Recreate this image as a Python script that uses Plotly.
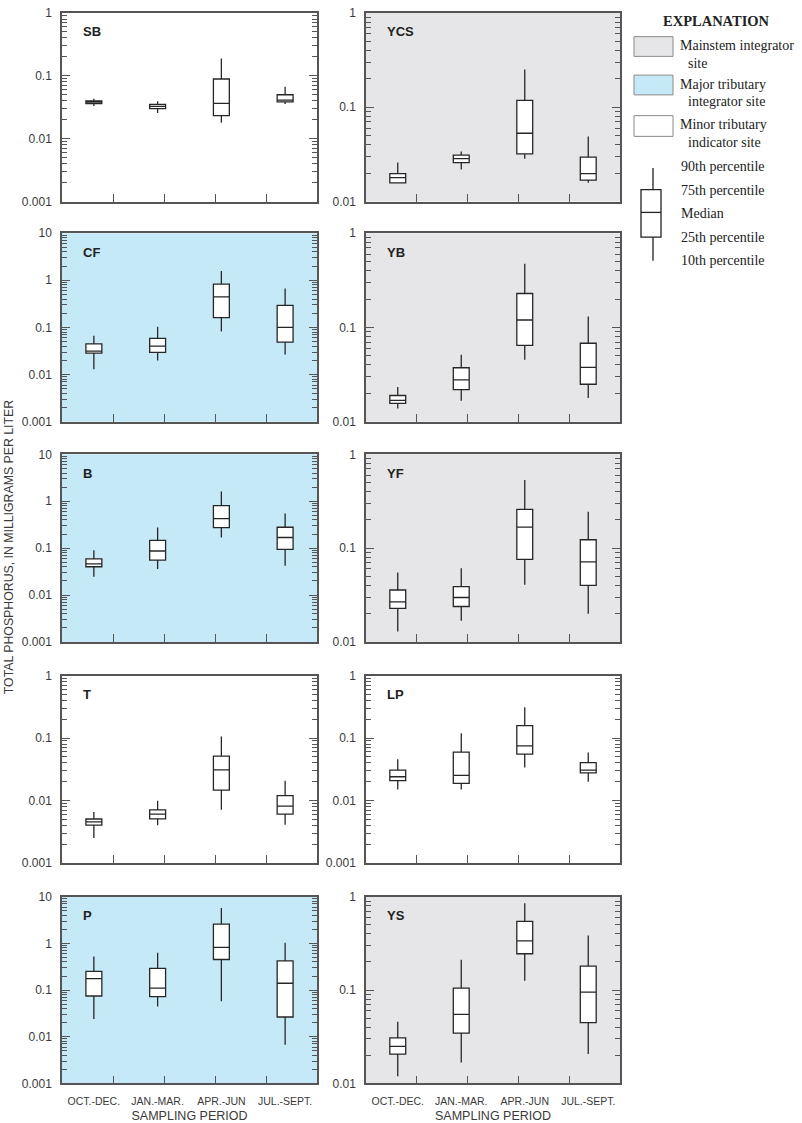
import math
import plotly.graph_objects as go

periods = ["OCT.-DEC.", "JAN.-MAR.", "APR.-JUN", "JUL.-SEPT."]
positions = [0, 1, 2, 3]

# Percentiles per site: 10th, 25th, median, 75th, 90th (mg/L)
SB_P10 = [0.033, 0.0257, 0.018, 0.0355]
SB_P25 = [0.036, 0.030, 0.0232, 0.0386]
SB_MED = [0.038, 0.0326, 0.0363, 0.041]
SB_P75 = [0.040, 0.035, 0.089, 0.050]
SB_P90 = [0.043, 0.0395, 0.189, 0.067]

CF_P10 = [0.013, 0.020, 0.082, 0.0267]
CF_P25 = [0.0285, 0.0295, 0.162, 0.049]
CF_MED = [0.0314, 0.040, 0.447, 0.100]
CF_P75 = [0.0447, 0.0589, 0.83, 0.295]
CF_P90 = [0.067, 0.103, 1.58, 0.668]

B_P10 = [0.0247, 0.0358, 0.169, 0.042]
B_P25 = [0.0402, 0.0555, 0.275, 0.0945]
B_MED = [0.0464, 0.087, 0.425, 0.169]
B_P75 = [0.059, 0.146, 0.81, 0.279]
B_P90 = [0.090, 0.275, 1.62, 0.55]

T_P10 = [0.00253, 0.00405, 0.00713, 0.0041]
T_P25 = [0.00405, 0.0051, 0.0147, 0.0061]
T_MED = [0.00457, 0.0061, 0.031, 0.00815]
T_P75 = [0.00509, 0.00713, 0.0515, 0.012]
T_P90 = [0.00656, 0.010, 0.106, 0.0208]

P_P10 = [0.024, 0.0445, 0.0577, 0.00678]
P_P25 = [0.0747, 0.0723, 0.452, 0.0265]
P_MED = [0.176, 0.110, 0.822, 0.140]
P_P75 = [0.252, 0.292, 2.6, 0.424]
P_P90 = [0.522, 0.635, 5.75, 1.03]

YCS_P10 = [0.0155, 0.0219, 0.0285, 0.0158]
YCS_P25 = [0.0158, 0.0259, 0.0321, 0.0169]
YCS_MED = [0.0179, 0.0285, 0.053, 0.0198]
YCS_P75 = [0.0198, 0.031, 0.118, 0.0296]
YCS_P90 = [0.026, 0.034, 0.252, 0.049]

YB_P10 = [0.0138, 0.0167, 0.0454, 0.0179]
YB_P25 = [0.0157, 0.0219, 0.0647, 0.025]
YB_MED = [0.0169, 0.0278, 0.120, 0.0378]
YB_P75 = [0.019, 0.0374, 0.229, 0.068]
YB_P90 = [0.0233, 0.0513, 0.473, 0.131]

YF_P10 = [0.0129, 0.0168, 0.0408, 0.020]
YF_P25 = [0.0228, 0.0239, 0.076, 0.0402]
YF_MED = [0.0268, 0.0298, 0.168, 0.0713]
YF_P75 = [0.0358, 0.0389, 0.259, 0.123]
YF_P90 = [0.055, 0.061, 0.532, 0.245]

LP_P10 = [0.0151, 0.0151, 0.0338, 0.0201]
LP_P25 = [0.0209, 0.0189, 0.0554, 0.0279]
LP_MED = [0.0241, 0.0253, 0.0749, 0.0307]
LP_P75 = [0.0307, 0.0596, 0.158, 0.0405]
LP_P90 = [0.0457, 0.120, 0.310, 0.0589]

YS_P10 = [0.0119, 0.0168, 0.126, 0.0207]
YS_P25 = [0.0206, 0.0346, 0.245, 0.0448]
YS_MED = [0.025, 0.0548, 0.337, 0.0953]
YS_P75 = [0.0308, 0.105, 0.545, 0.181]
YS_P90 = [0.0459, 0.211, 0.851, 0.385]

# panel: name, stats, y-range (low, high), site type
panels = [
    ("SB", (SB_P10, SB_P25, SB_MED, SB_P75, SB_P90), (0.001, 1), "minor"),
    ("CF", (CF_P10, CF_P25, CF_MED, CF_P75, CF_P90), (0.001, 10), "major"),
    ("B", (B_P10, B_P25, B_MED, B_P75, B_P90), (0.001, 10), "major"),
    ("T", (T_P10, T_P25, T_MED, T_P75, T_P90), (0.001, 1), "minor"),
    ("P", (P_P10, P_P25, P_MED, P_P75, P_P90), (0.001, 10), "major"),
    ("YCS", (YCS_P10, YCS_P25, YCS_MED, YCS_P75, YCS_P90), (0.01, 1), "main"),
    ("YB", (YB_P10, YB_P25, YB_MED, YB_P75, YB_P90), (0.01, 1), "main"),
    ("YF", (YF_P10, YF_P25, YF_MED, YF_P75, YF_P90), (0.01, 1), "main"),
    ("LP", (LP_P10, LP_P25, LP_MED, LP_P75, LP_P90), (0.001, 1), "minor"),
    ("YS", (YS_P10, YS_P25, YS_MED, YS_P75, YS_P90), (0.01, 1), "main"),
]

BG = {"main": "#e6e6e8", "major": "#c6e9f8", "minor": "#ffffff"}
W, H = 802, 1123
col_x = [(62, 317), (366, 620)]
row_y = [(6, 197), (229, 420), (453, 643), (677, 867), (901, 1090)]

AX = "#555555"
TXT = "#3a3a3a"
FONT = "Liberation Sans, Arial, sans-serif"
SERIF = "Liberation Serif, Times New Roman, serif"

fig = go.Figure()
layout = {}
shapes = []
annotations = []


def fmt(v):
    if v >= 1:
        return str(int(v))
    return ("%.3f" % v).rstrip("0")


for i, (name, st, (lo, hi), typ) in enumerate(panels):
    col = i // 5
    row = i % 5
    n = i + 1
    xs = "x" if n == 1 else "x%d" % n
    ys = "y" if n == 1 else "y%d" % n
    xkey = "xaxis" if n == 1 else "xaxis%d" % n
    ykey = "yaxis" if n == 1 else "yaxis%d" % n
    p10, p25, med, p75, p90 = st
    fig.add_trace(go.Box(
        x=positions, q1=p25, median=med, q3=p75,
        lowerfence=p10, upperfence=p90,
        width=0.25, whiskerwidth=0, fillcolor="white",
        line=dict(color="#262626", width=1.3),
        boxpoints=False, hoverinfo="skip", showlegend=False,
        xaxis=xs, yaxis=ys,
    ))
    x0, x1 = col_x[col]
    y0, y1 = row_y[row]
    dlo, dhi = int(round(math.log10(lo))), int(round(math.log10(hi)))
    decades = [10.0 ** k for k in range(dlo, dhi + 1)]
    minors = [m * 10.0 ** k for k in range(dlo, dhi) for m in range(2, 10)]
    bottom = row == 4
    layout[xkey] = dict(
        domain=[x0 / W, x1 / W], anchor=ys, range=[-0.5, 3.5],
        showline=True, linecolor=AX, linewidth=1.5, mirror=True,
        showgrid=False, zeroline=False,
        tickvals=positions, ticktext=periods, ticks="",
        showticklabels=bottom, ticklabelstandoff=7,
        tickfont=dict(family=FONT, size=10.5, color=TXT),
        minor=dict(tickvals=[0.3, 1.1, 1.9, 2.7], ticks="inside",
                   ticklen=8, tickcolor=AX, tickwidth=1.2, showgrid=False),
        title=dict(text="SAMPLING PERIOD" if bottom else "",
                   font=dict(family=FONT, size=12.5, color=TXT), standoff=5),
    )
    layout[ykey] = dict(
        domain=[1 - y1 / H, 1 - y0 / H], anchor=xs, type="log",
        range=[math.log10(lo), math.log10(hi)],
        showline=True, linecolor=AX, linewidth=1.5, mirror="ticks",
        showgrid=False, zeroline=False,
        tickvals=decades, ticktext=[fmt(v) for v in decades],
        ticks="inside", ticklen=8, tickcolor=AX, tickwidth=1.2,
        ticklabelstandoff=6,
        tickfont=dict(family=FONT, size=12, color=TXT),
        minor=dict(tickvals=minors, ticks="inside", ticklen=5,
                   tickcolor=AX, tickwidth=1, showgrid=False),
    )
    shapes.append(dict(type="rect", xref=xs + " domain", yref=ys + " domain",
                       x0=0, x1=1, y0=0, y1=1, fillcolor=BG[typ],
                       line=dict(width=0), layer="below"))
    annotations.append(dict(text="<b>%s</b>" % name, xref=xs + " domain",
                            yref=ys + " domain", x=0.075, y=0.90,
                            xanchor="left", yanchor="middle", showarrow=False,
                            font=dict(family=FONT, size=13, color="#222")))

# y axis title
annotations.append(dict(text="TOTAL PHOSPHORUS, IN MILLIGRAMS PER LITER",
                        xref="paper", yref="paper", x=9 / W, y=1 - 547 / H,
                        textangle=-90, showarrow=False, xanchor="center",
                        yanchor="middle",
                        font=dict(family=FONT, size=12.3, color=TXT)))


def px(x):
    return x / W


def py(y):
    return 1 - y / H


annotations.append(dict(text="<b>EXPLANATION</b>", xref="paper", yref="paper",
                        x=px(716), y=py(14), showarrow=False,
                        xanchor="center", yanchor="middle",
                        font=dict(family=SERIF, size=14.5, color="#222")))
legend_items = [
    ("main", 30, 50, ["Mainstem integrator", "site"]),
    ("major", 69, 89, ["Major tributary", "integrator site"]),
    ("minor", 110, 131, ["Minor tributary", "indicator site"]),
]
for typ, t, b, lines in legend_items:
    shapes.append(dict(type="rect", xref="paper", yref="paper",
                       x0=px(634), x1=px(673), y0=py(b), y1=py(t),
                       fillcolor=BG[typ], line=dict(color="#8a8a8a", width=1)))
    annotations.append(dict(text=lines[0], xref="paper", yref="paper",
                            x=px(678), y=py(t + 9), showarrow=False,
                            xanchor="left", yanchor="middle",
                            font=dict(family=SERIF, size=14, color="#222")))
    annotations.append(dict(text=lines[1], xref="paper", yref="paper",
                            x=px(686), y=py(t + 27), showarrow=False,
                            xanchor="left", yanchor="middle",
                            font=dict(family=SERIF, size=14, color="#222")))

# schematic box
shapes.append(dict(type="line", xref="paper", yref="paper", x0=px(653), x1=px(653),
                   y0=py(163), y1=py(185), line=dict(color="#222", width=1.3)))
shapes.append(dict(type="line", xref="paper", yref="paper", x0=px(653), x1=px(653),
                   y0=py(233), y1=py(257), line=dict(color="#222", width=1.3)))
shapes.append(dict(type="rect", xref="paper", yref="paper", x0=px(641), x1=px(661),
                   y0=py(233), y1=py(185), fillcolor="white",
                   line=dict(color="#222", width=1.3)))
shapes.append(dict(type="line", xref="paper", yref="paper", x0=px(641), x1=px(661),
                   y0=py(208), y1=py(208), line=dict(color="#222", width=1.3)))
for lab, y in [("90th percentile", 162), ("75th percentile", 186), ("Median", 209),
               ("25th percentile", 233), ("10th percentile", 257)]:
    annotations.append(dict(text=lab, xref="paper", yref="paper",
                            x=px(679), y=py(y), showarrow=False,
                            xanchor="left", yanchor="middle",
                            font=dict(family=SERIF, size=14, color="#222")))

fig.update_layout(
    width=W, height=H, margin=dict(l=0, r=0, t=0, b=0),
    paper_bgcolor="white", plot_bgcolor="rgba(0,0,0,0)",
    shapes=shapes, annotations=annotations, showlegend=False,
    **layout,
)
fig.write_html(
    "out.html",
    config={"displayModeBar": False},
    post_script="document.body.style.margin='0';document.body.style.overflow='hidden';",
)
